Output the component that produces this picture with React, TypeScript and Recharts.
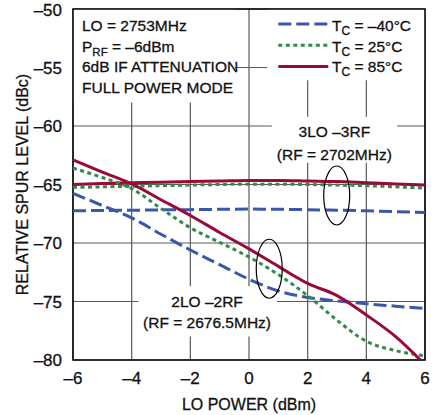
import {
  LineChart,
  Line,
  XAxis,
  YAxis,
  CartesianGrid,
  ReferenceArea,
  ReferenceDot,
} from 'recharts';

const FONT = '"Liberation Sans", Arial, Helvetica, sans-serif';
const INK = '#111';
const BLUE = '#3a58a8';
const GREEN = '#338a48';
const RED = '#990a3a';

const loPower = [-6, -5, -4, -3, -2, -1, 0, 1, 2, 3, 4, 5, 6];

// 2LO - 2RF spur, RF = 2676.5MHz
const spur2Cold = [-65.75, -66.8, -67.85, -69.25, -70.6, -71.85, -73.1, -74.1, -74.65, -74.95, -75.2, -75.4, -75.6];
const spur2Room = [-63.6, -64.4, -65.35, -67.05, -68.7, -69.95, -71.2, -72.7, -74.5, -76.6, -78.4, -79.2, -79.65];
const spur2Hot = [-62.9, -63.95, -64.95, -66.3, -67.65, -69.1, -70.5, -72.0, -73.45, -74.5, -76.15, -78.0, -80.4];

// 3LO - 3RF spur, RF = 2702MHz
const spur3Cold = [-67.25, -67.22, -67.2, -67.17, -67.15, -67.12, -67.1, -67.12, -67.15, -67.2, -67.25, -67.32, -67.4];
const spur3Room = [-65.25, -65.2, -65.15, -65.1, -65.05, -65.0, -64.97, -64.97, -65.0, -65.05, -65.1, -65.2, -65.3];
const spur3Hot = [-65.0, -64.92, -64.85, -64.8, -64.75, -64.7, -64.65, -64.65, -64.7, -64.75, -64.85, -64.95, -65.05];

const xTicks = [-6, -4, -2, 0, 2, 4, 6];
const yTicks = [-80, -75, -70, -65, -60, -55, -50];

const data = loPower.map((lo, i) => ({
  lo,
  spur2Cold: spur2Cold[i],
  spur2Room: spur2Room[i],
  spur2Hot: spur2Hot[i],
  spur3Cold: spur3Cold[i],
  spur3Room: spur3Room[i],
  spur3Hot: spur3Hot[i],
}));

const COLD = { color: BLUE, dash: '13 5' };
const ROOM = { color: GREEN, dash: '4 3.5' };
const HOT = { color: RED, dash: undefined };

const series = [
  { key: 'spur3Cold', ...COLD },
  { key: 'spur3Room', ...ROOM },
  { key: 'spur3Hot', ...HOT },
  { key: 'spur2Cold', ...COLD },
  { key: 'spur2Room', ...ROOM },
  { key: 'spur2Hot', ...HOT },
];

const legendItems = [
  { temp: '–40°C', ...COLD },
  { temp: '25°C', ...ROOM },
  { temp: '85°C', ...HOT },
];

// white patches that break the grid behind the text
const textBacks = [
  { x1: -6, x2: -0.47, y1: -58.0, y2: -50 },
  { x1: 0.62, x2: 6, y1: -56.1, y2: -50 },
  { x1: 0.78, x2: 5.05, y1: -63.15, y2: -59.2 },
  { x1: -3.77, x2: 0.95, y1: -78.0, y2: -73.7 },
];

const fmt = (v: number) => (v < 0 ? `–${-v}` : `${v}`);
const TXT = 15.5;
// a hairline outline gives the glyphs a little more weight
const inkStyle = { fill: INK, stroke: INK, strokeWidth: 0.3 };

type Pt = { cx: number; cy: number };

const InfoBlock = ({ cx, cy }: Pt) => {
  const x = cx + 9;
  return (
    <g fontSize={TXT} {...inkStyle}>
      <text x={x} y={cy + 22.4}>LO = 2753MHz</text>
      <text x={x} y={cy + 42.7}>
        P<tspan fontSize={11.5} dy={4}>RF</tspan>
        <tspan dy={-4}> = –6dBm</tspan>
      </text>
      <text x={x} y={cy + 63.4}>6dB IF ATTENUATION</text>
      <text x={x} y={cy + 83.7}>FULL POWER MODE</text>
    </g>
  );
};

const LegendBlock = ({ cx, cy }: Pt) => (
  <g fontSize={TXT}>
    {legendItems.map((it, i) => {
      const lineY = cy + 15 + i * 21.2;
      const textY = cy + 22.4 + i * 20.5;
      return (
        <g key={it.temp}>
          <line
            x1={cx - 146.7}
            x2={cx - 96.7}
            y1={lineY}
            y2={lineY}
            stroke={it.color}
            strokeWidth={3}
            strokeDasharray={it.dash}
          />
          <text x={cx - 93} y={textY} {...inkStyle}>
            T<tspan fontSize={12} dy={4}>C</tspan>
            <tspan dy={-4}> = {it.temp}</tspan>
          </text>
        </g>
      );
    })}
  </g>
);

const TwoLines = (a: string, b: string, gap: number) => ({ cx, cy }: Pt) => (
  <g fontSize={TXT} textAnchor="middle" {...inkStyle}>
    <text x={cx} y={cy}>{a}</text>
    <text x={cx} y={cy + gap}>{b}</text>
  </g>
);

const Ring = ({ cx, cy }: Pt) => (
  <ellipse cx={cx} cy={cy} rx={13} ry={29.5} fill="none" stroke="#000" strokeWidth={1.2} />
);

const tickStyle = { fontSize: 17, ...inkStyle };

export default function App() {
  return (
    <div style={{ position: 'absolute', left: 0, top: 0, background: '#fff', fontFamily: FONT }}>
      <LineChart width={438} height={415} data={data} margin={{ top: 9, right: 13, bottom: 25, left: 0 }}>
        <CartesianGrid stroke="#5a5a5a" strokeWidth={1.2} />
        <XAxis
          dataKey="lo"
          type="number"
          domain={[-6, 6]}
          ticks={xTicks}
          tickFormatter={fmt}
          axisLine={false}
          tickLine={false}
          tickSize={0}
          tickMargin={12}
          height={30}
          tick={tickStyle}
        />
        <YAxis
          type="number"
          domain={[-80, -50]}
          ticks={yTicks}
          tickFormatter={fmt}
          allowDataOverflow
          axisLine={false}
          tickLine={false}
          tickSize={0}
          tickMargin={11}
          width={73}
          tick={tickStyle}
        />
        {textBacks.map((b, i) => (
          <ReferenceArea key={i} {...b} fill="#fff" fillOpacity={1} stroke="none" />
        ))}
        <ReferenceArea x1={-6} x2={6} y1={-80} y2={-50} fill="none" stroke="#000" strokeWidth={1.5} />
        {series.map((s) => (
          <Line
            key={s.key}
            dataKey={s.key}
            type="monotone"
            stroke={s.color}
            strokeWidth={3}
            strokeDasharray={s.dash}
            dot={false}
            activeDot={false}
            isAnimationActive={false}
          />
        ))}
        <ReferenceDot x={2.99} y={-65.94} shape={Ring} />
        <ReferenceDot x={0.69} y={-72.2} shape={Ring} />
        <ReferenceDot x={2.91} y={-60.91} shape={TwoLines('3LO –3RF', '(RF = 2702MHz)', 23.3)} />
        <ReferenceDot x={-1.43} y={-75.45} shape={TwoLines('2LO –2RF', '(RF = 2676.5MHz)', 21.6)} />
        <ReferenceDot x={-6} y={-50} shape={InfoBlock} />
        <ReferenceDot x={6} y={-50} shape={LegendBlock} />
        <ReferenceDot
          x={-6}
          y={-65}
          shape={({ cx, cy }: Pt) => (
            <text
              x={cx - 45}
              y={cy}
              fontSize={16}
              textAnchor="middle"
              transform={`rotate(-90, ${cx - 45}, ${cy})`}
              {...inkStyle}
            >
              RELATIVE SPUR LEVEL (dBc)
            </text>
          )}
        />
        <ReferenceDot
          x={0}
          y={-80}
          shape={({ cx, cy }: Pt) => (
            <text x={cx} y={cy + 50} fontSize={16} textAnchor="middle" {...inkStyle}>
              LO POWER (dBm)
            </text>
          )}
        />
      </LineChart>
    </div>
  );
}
